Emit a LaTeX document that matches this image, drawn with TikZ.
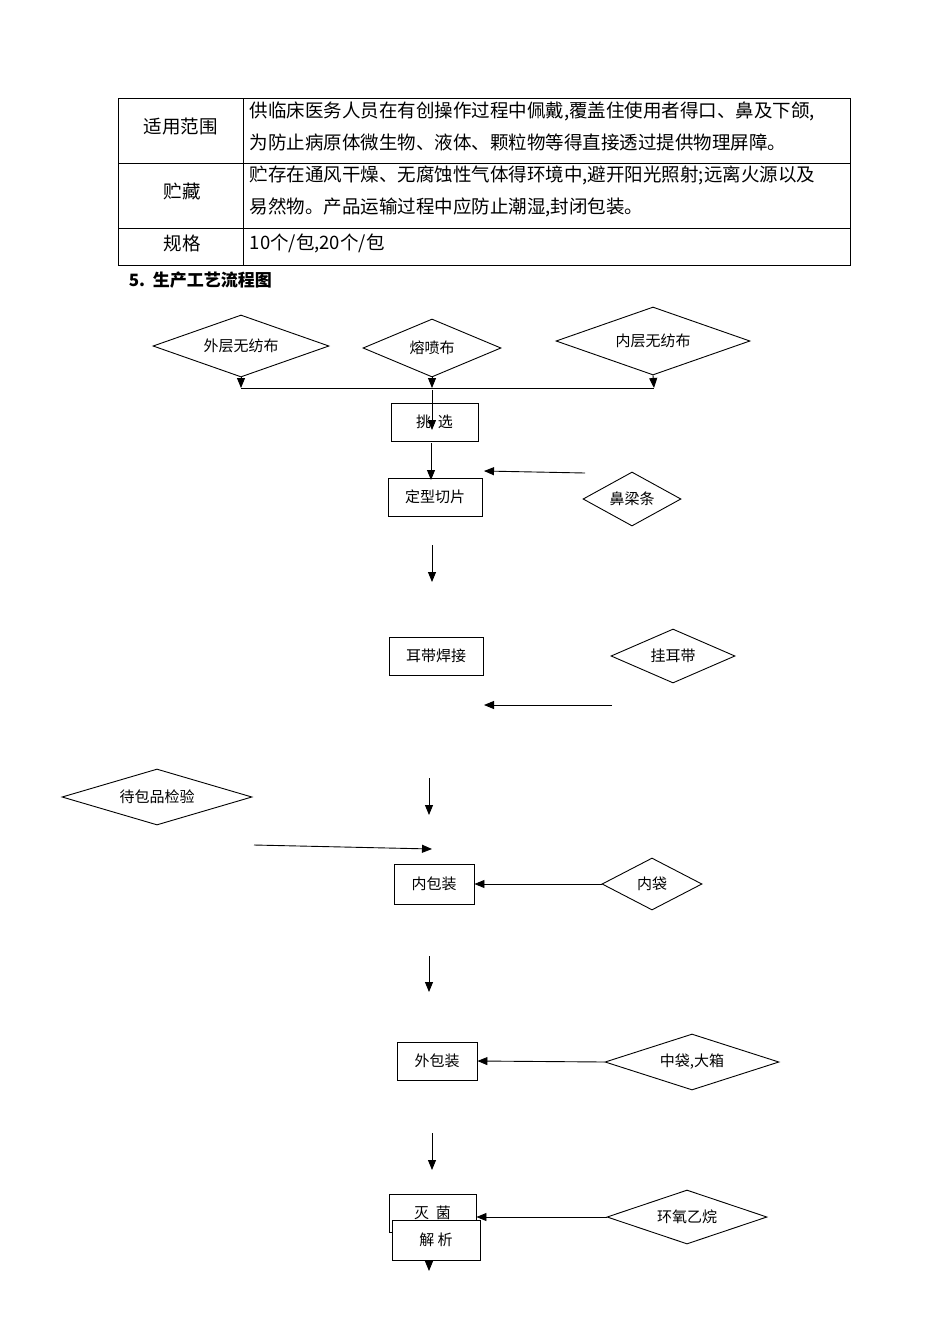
\documentclass[tikz,border=0pt]{standalone}
\usepackage{fontspec}
\setmainfont{Noto Sans CJK SC}
\usetikzlibrary{arrows.meta,shapes.geometric}

\begin{document}
\begin{tikzpicture}[x=1pt,y=-1pt,
  box/.style = {draw, rectangle, minimum width=#1, minimum height=38pt, inner sep=0pt, font=\fontsize{15}{18}\selectfont},
  dia/.style = {draw, diamond, aspect=3, inner sep=0pt, font=\fontsize{15}{18}\selectfont},
  cell/.style = {anchor=west, align=left, font=\fontsize{18.5}{32}\selectfont},
  >={Triangle[length=10pt,width=8pt]}, line width=0.9pt]
  \useasboundingbox (0,0) rectangle (950,1344);
  % table
  \draw (118,98) rectangle (850,265);
  \draw (243,98) -- (243,265);
  \draw (118,163) -- (850,163) (118,228) -- (850,228);
  \node[cell] at (140,127) {适用范围};
  \node[cell] at (160,191) {贮藏};
  \node[cell] at (160,243) {规格};
  \node[cell] at (246,126) {供临床医务人员在有创操作过程中佩戴,覆盖住使用者得口、鼻及下颌,\\为防止病原体微生物、液体、颗粒物等得直接透过提供物理屏障。};
  \node[cell] at (246,191) {贮存在通风干燥、无腐蚀性气体得环境中,避开阳光照射;远离火源以及\\易然物。产品运输过程中应防止潮湿,封闭包装。};
  \node[cell] at (246,243) {10个/包,20个/包};
  \node[anchor=west, font=\fontsize{17}{20}\selectfont\bfseries] at (125,280) {5.\ \ 生产工艺流程图};

  % raw materials
  \node[dia, minimum width=176pt, minimum height=62pt] (wai) at (241,346) {外层无纺布};
  \node[dia, minimum width=138pt, minimum height=58pt] (rong) at (432,348) {熔喷布};
  \node[dia, minimum width=194pt, minimum height=68pt] (nei) at (653,341) {内层无纺布};
  \coordinate (jl) at (241,388);
  \coordinate (jm) at (432,388);
  \coordinate (jr) at (654,388);
  \draw (jl) -- (jr);
  \draw[->] (wai.south) -- (jl);
  \draw[->] (rong.south) -- (jm);
  \draw[->] (nei.south) -- (jr);

  % process steps
  \node[box=87pt] (tiao) at (434.5,422) {挑\ \ 选};
  \node[box=94pt] (ding) at (435,497) {定型切片};
  \node[box=94pt] (er) at (436,656) {耳带焊接};
  \node[box=80pt, minimum height=40pt] (neib) at (434,884) {内包装};
  \node[box=80pt] (waib) at (437,1061) {外包装};
  \node[box=87pt] (mie) at (432.5,1213) {灭\ \ 菌};
  \node[box=88pt, minimum height=40pt, fill=white] (jie) at (436,1240) {解\ 析};

  % supplies
  \node[dia, minimum width=98pt, minimum height=54pt] (bi) at (632,499) {鼻梁条};
  \node[dia, minimum width=124pt, minimum height=54pt] (gua) at (673,656) {挂耳带};
  \node[dia, minimum width=190pt, minimum height=56pt] (dai) at (157,797) {待包品检验};
  \node[dia, minimum width=100pt, minimum height=52pt] (neid) at (652,884) {内袋};
  \node[dia, minimum width=174pt, minimum height=56pt] (zhong) at (692,1062) {中袋,大箱};
  \node[dia, minimum width=160pt, minimum height=54pt] (huan) at (687,1217) {环氧乙烷};

  % loose arrows
  \coordinate (a1) at (432,390);  \coordinate (a2) at (432,430);
  \coordinate (b1) at (431,443);  \coordinate (b2) at (431,480);
  \coordinate (c1) at (585,473);  \coordinate (c2) at (484,471);
  \coordinate (d1) at (432,545);  \coordinate (d2) at (432,582);
  \coordinate (e1) at (612,705);  \coordinate (e2) at (484,705);
  \coordinate (f1) at (429,778);  \coordinate (f2) at (429,815);
  \coordinate (g1) at (254,845);  \coordinate (g2) at (432,849);
  \coordinate (h1) at (429,956);  \coordinate (h2) at (429,992);
  \coordinate (i1) at (432,1133); \coordinate (i2) at (432,1170);
  \coordinate (k1) at (429,1260); \coordinate (k2) at (429,1271);
  \draw[->] (a1) -- (a2);
  \draw[->] (b1) -- (b2);
  \draw[->] (c1) -- (c2);
  \draw[->] (d1) -- (d2);
  \draw[->] (e1) -- (e2);
  \draw[->] (f1) -- (f2);
  \draw[->] (g1) -- (g2);
  \draw[->] (h1) -- (h2);
  \draw[->] (i1) -- (i2);
  \draw[->] (k1) -- (k2);
  \draw[->] (neid.west) -- (neib.east);
  \draw[->] (zhong.west) -- (waib.east);
  \draw[->] (huan.west) -- (mie.east |- huan.west);
\end{tikzpicture}
\end{document}
